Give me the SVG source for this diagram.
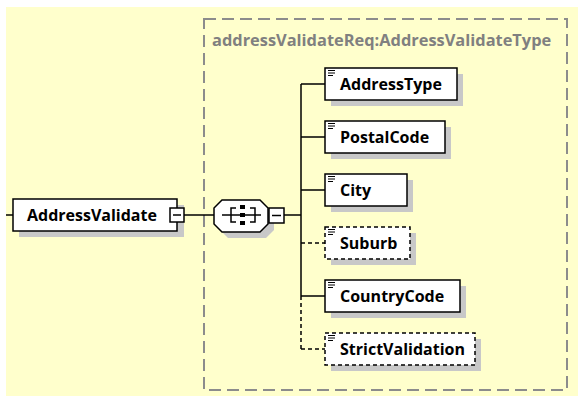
<svg xmlns="http://www.w3.org/2000/svg" width="578" height="396" viewBox="0 0 578 396">
<style>
.bg{fill:#ffffcc}
.frame{fill:none;stroke:#8c8c8c;stroke-width:2;stroke-dasharray:12 6}
.title{font-family:"Open Sans","DejaVu Sans",sans-serif;font-weight:700;font-size:16.4px;fill:#808080}
.shadow{fill:#c8c8c8}
.box{fill:#fff;stroke:#000;stroke-width:1.5}
.opt{fill:#fff;stroke:#000;stroke-width:1.5;stroke-dasharray:4 3}
.lbl{font-family:"Open Sans","DejaVu Sans",sans-serif;font-weight:700;font-size:16px;fill:#000}
.ln{fill:none;stroke:#000;stroke-width:1.5}
.dl{fill:none;stroke:#000;stroke-width:1.5;stroke-dasharray:4 3}
.ic{stroke:#000;stroke-width:1}
</style>
<defs>
<g id="icon"><path class="ic" d="M3,2.5H10M3,5H10M3,7.5H8"/></g>
</defs>
<rect class="bg" x="6" y="7" width="572" height="389"/>
<rect class="frame" x="204" y="19" width="363" height="371"/>
<text class="title" x="212" y="46">addressValidateReq:AddressValidateType</text>
<g id="connectors">
<path class="ln" d="M6,215H13"/>
<path class="ln" d="M184,215H214"/>
<path class="ln" d="M284,215H301"/>
<path class="ln" d="M301,84V296"/>
<path class="dl" d="M301,296V349"/>
<path class="ln" d="M301,84H325M301,137H325M301,190H325M301,296H325"/>
<path class="dl" d="M301,243H325M301,349H325"/>
</g>
<g id="AddressValidate">
<rect class="shadow" x="19" y="205" width="165" height="32"/>
<rect class="box" x="13" y="199" width="164" height="32"/>
<text class="lbl" x="27" y="221">AddressValidate</text>
<rect class="box" x="170" y="208" width="14" height="14"/>
<path class="ln" d="M173,215H181"/>
</g>
<g id="sequence">
<path class="shadow" d="M228,206H266L274,214V230L266,238H228L220,230V214Z"/>
<path class="box" d="M222,200H260L268,208V224L260,232H222L214,224V208Z"/>
<path class="ln" d="M222,215H261"/>
<path class="ln" d="M236,208H231V222H236M250,208H255V222H250"/>
<rect x="240" y="205" width="5" height="4" fill="#000"/>
<rect x="240" y="213" width="5" height="4" fill="#000"/>
<rect x="240" y="221" width="5" height="4" fill="#000"/>
<rect class="box" x="269" y="208" width="15" height="15"/>
<path class="ln" d="M272,215.5H281"/>
</g>
<g id="AddressType">
<rect class="shadow" x="331" y="74" width="132" height="32"/>
<rect class="box" x="325" y="68" width="132" height="32"/>
<use href="#icon" x="325" y="68"/>
<text class="lbl" x="340" y="90">AddressType</text>
</g>
<g id="PostalCode">
<rect class="shadow" x="331" y="127" width="120" height="32"/>
<rect class="box" x="325" y="121" width="120" height="32"/>
<use href="#icon" x="325" y="121"/>
<text class="lbl" x="340" y="143">PostalCode</text>
</g>
<g id="City">
<rect class="shadow" x="331" y="180" width="82" height="32"/>
<rect class="box" x="325" y="174" width="82" height="32"/>
<use href="#icon" x="325" y="174"/>
<text class="lbl" x="340" y="196">City</text>
</g>
<g id="Suburb">
<rect class="shadow" x="331" y="233" width="85" height="32"/>
<rect class="opt" x="325" y="227" width="85" height="32"/>
<use href="#icon" x="325" y="227"/>
<text class="lbl" x="340" y="249">Suburb</text>
</g>
<g id="CountryCode">
<rect class="shadow" x="331" y="286" width="135" height="32"/>
<rect class="box" x="325" y="280" width="135" height="32"/>
<use href="#icon" x="325" y="280"/>
<text class="lbl" x="340" y="302">CountryCode</text>
</g>
<g id="StrictValidation">
<rect class="shadow" x="331" y="339" width="150" height="32"/>
<rect class="opt" x="325" y="333" width="150" height="32"/>
<use href="#icon" x="325" y="333"/>
<text class="lbl" x="340" y="355">StrictValidation</text>
</g>
</svg>
